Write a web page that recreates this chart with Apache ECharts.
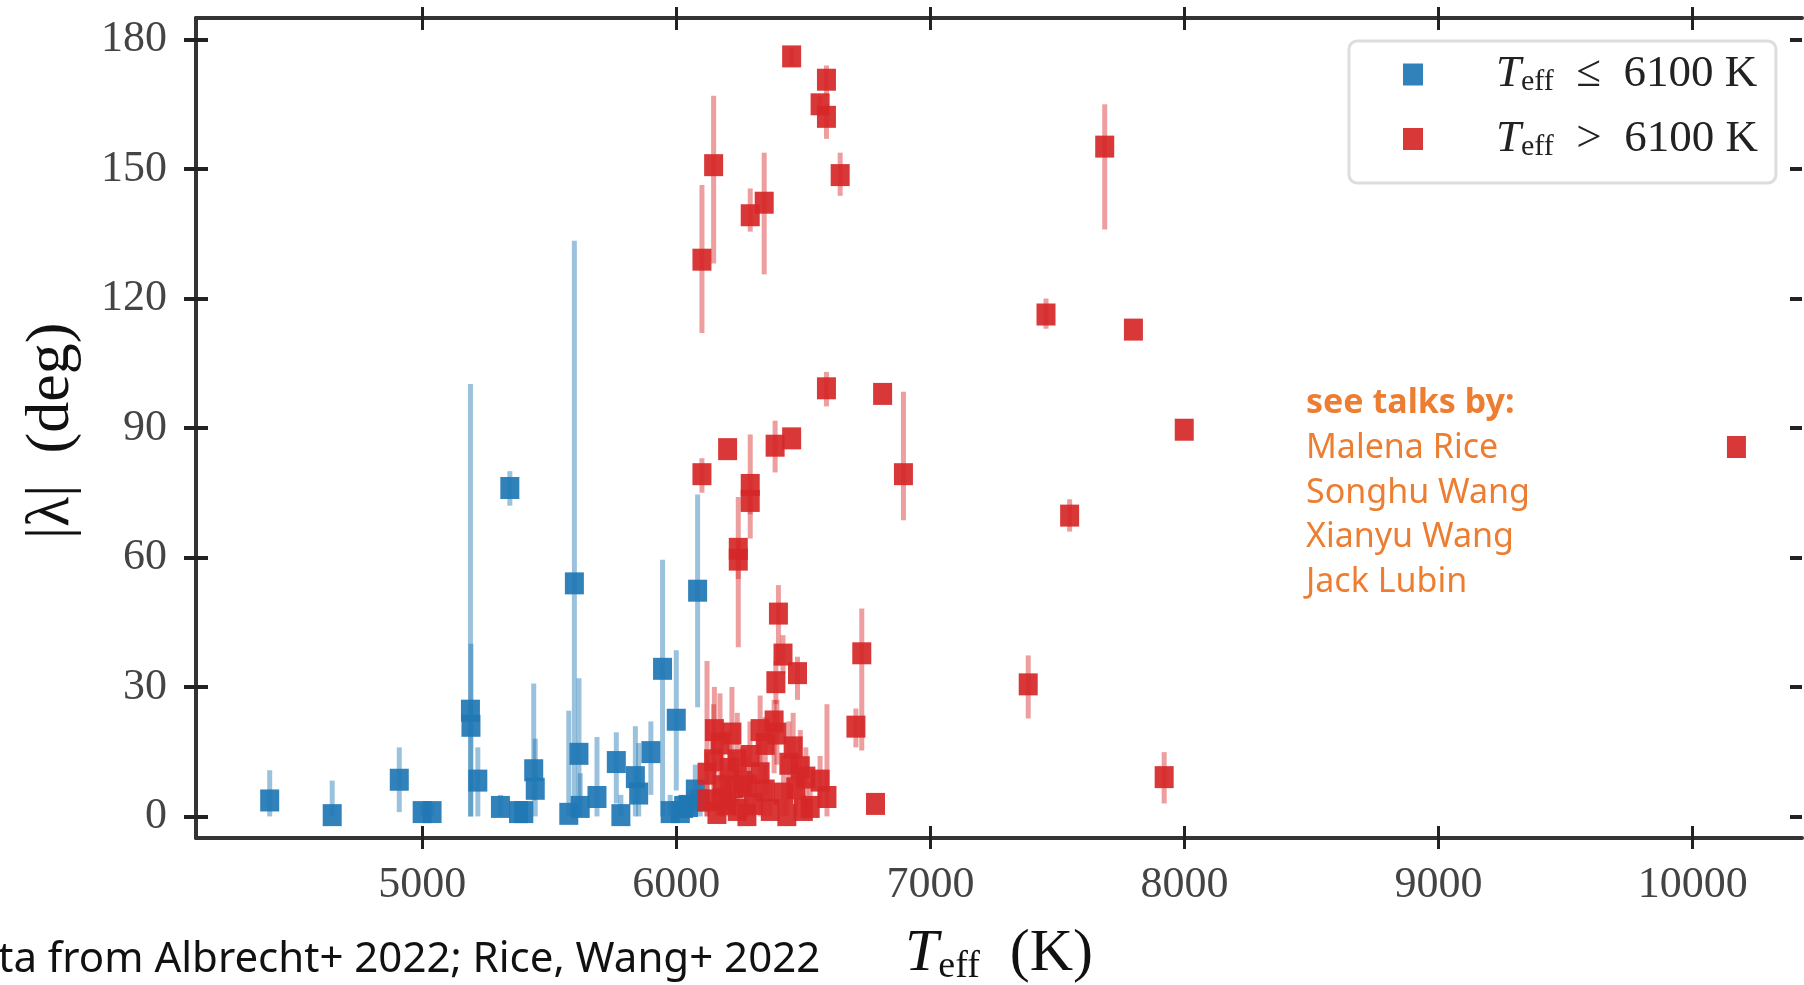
<!DOCTYPE html>
<html>
<head>
<meta charset="utf-8">
<title>|lambda| vs Teff</title>
<script src="https://cdn.jsdelivr.net/npm/echarts@6/dist/echarts.min.js"></script>
<style>
  html, body { margin: 0; padding: 0; background: #fff; }
  #chart { width: 1804px; height: 985px; }
</style>
</head>
<body>
<div id="chart"></div>
<script>
// stars with Teff <= 6100 K
var coolTeff = [4400, 4646, 4910, 5000, 5039, 5190, 5192, 5219, 5308, 5345, 5379, 5400, 5439, 5445, 5577, 5599, 5617, 5622, 5688, 5764, 5782, 5839, 5852, 5900, 5946, 5976, 6000, 6016, 6029, 6048, 6075, 6084, 6094]
var coolLam = [3.7, 0.3, 8.5, 1.0, 1.0, 24.5, 21.0, 8.3, 2.2, 76.1, 1.0, 1.0, 10.7, 6.4, 0.6, 54.0, 14.5, 2.2, 4.5, 12.6, 0.3, 9.1, 5.3, 14.9, 34.2, 1.0, 22.4, 1.0, 2.2, 2.4, 6.0, 52.3, 3.7]
var coolLo = [0, 0, 1, 0, 0, 0, 0, 0, 0, 72, 0, 0, 3.7, 0, 0, 0, 0, 0, 0, 3, 0, 0, 0, 5, 0, 0, 6, 0, 0, 0, 0, 25.3, 0]
var coolHi = [10.7, 8.3, 16, 3, 3, 100.2, 40, 16, 5, 80, 3, 3, 30.8, 18, 24.5, 133.4, 32, 10, 18.4, 19.5, 5, 20.9, 17, 22, 59.5, 5, 38.5, 5, 5, 6, 12, 74.6, 8]

// stars with Teff > 6100 K
var hotTeff = [6454, 6591, 6566, 6591, 6645, 6147, 6101, 6291, 6346, 7686, 7455, 7799, 6591, 6812, 7999, 10172,
  6894, 6202, 6389, 6454, 6101, 6291, 6291, 7548, 6244, 6244, 6402, 6420, 6477, 6392, 6730, 6707, 7385, 7920, 6784,
  6385, 6350, 6219, 6172, 6147, 6121, 6121, 6443, 6488, 6566, 6593, 6527, 6435, 6278, 6225, 6199, 6304, 6422, 6396,
  6260, 6330, 6180, 6240, 6160, 6350, 6470, 6240, 6370, 6500,
  6180, 6210, 6290, 6330, 6460, 6510, 6150, 6280]
var hotLam = [176.1, 170.7, 165.0, 162.1, 148.6, 150.9, 129.0, 139.3, 142.2, 155.2, 116.3, 112.8, 99.2, 97.9, 89.6, 85.6,
  79.3, 85.1, 85.9, 87.6, 79.3, 76.8, 73.1, 69.7, 62.0, 59.5, 47.0, 37.5, 33.2, 31.1, 37.8, 20.8, 30.6, 9.1, 2.9,
  22.0, 16.8, 19.2, 16.9, 13.0, 9.9, 3.7, 12.2, 11.4, 8.3, 4.5, 2.2, 0.3, 0.3, 6.8, 2.9, 2.9, 5.3, 19.2,
  8.0, 10.0, 7.0, 13.0, 0.8, 6.0, 6.5, 1.5, 1.5, 1.5,
  4.0, 11.0, 14.0, 20.0, 16.0, 9.0, 20.0, 7.0]
var hotLo = [174, 167, 163, 157, 143.8, 128.1, 112, 135.5, 125.6, 136, 113, 112.8, 95, 97.9, 89.6, 85.6,
  68.6, 85.1, 79.7, 87.6, 75, 64.4, 70, 66, 39.2, 55, 35, 33, 27, 26, 15.3, 16, 22.7, 3, 2.9,
  10, 5, 10, 8, 3, 0, 0, 5, 4, 2, 0, 0, 0, 0, 0, 0, 0, 0, 12,
  0, 0, 0, 3, 0, 0, 0, 0, 0, 0,
  0, 3, 6, 12, 8, 2, 10, 0]
var hotHi = [178, 174, 167, 165, 153.8, 167, 146.3, 145.5, 153.8, 165, 120, 112.8, 103, 97.9, 89.6, 85.6,
  98.4, 85.1, 91.7, 87.6, 83, 88.5, 76, 73.5, 74, 64, 53.6, 42, 37, 36, 48.2, 25, 37.3, 14.9, 2.9,
  27, 23, 30, 28.5, 26, 36, 15, 22, 20, 14, 26, 8, 4, 4, 15, 12, 10, 14, 27,
  16, 18, 20, 24, 5, 12, 12, 6, 8, 5,
  10, 20, 22, 28, 24, 16, 30, 14]

var xTicks = [5000, 6000, 7000, 8000, 9000, 10000]
var yTicks = [0, 30, 60, 90, 120, 150, 180]
var speakers = ['Malena Rice', 'Songhu Wang', 'Xianyu Wang', 'Jack Lubin']

var BLUE = '#1f77b4'
var RED = '#d62728'
var SERIF = 'Liberation Serif'
var SANS = 'Noto Sans'

function points (teff, lam) {
  return teff.map(function (t, i) { return [t, lam[i]] })
}

function errorBars (name, teff, lo, hi, color, z) {
  return {
    name: name,
    type: 'custom',
    silent: true,
    z: z,
    encode: { x: 0, y: [1, 2] },
    data: teff.map(function (t, i) { return [t, lo[i], hi[i]] }),
    renderItem: function (params, api) {
      var p1 = api.coord([api.value(0), api.value(1)])
      var p2 = api.coord([api.value(0), api.value(2)])
      return {
        type: 'line',
        shape: { x1: p1[0], y1: p1[1], x2: p2[0], y2: p2[1] },
        style: { stroke: color, lineWidth: 5, opacity: 0.45 }
      }
    }
  }
}

function plainNumber (v) {
  return String(v)
}

// one axis for the outward half of the ticks, one for the inward half
function xAxisPart (position, inside, withLabels) {
  return {
    type: 'value',
    position: position,
    min: 4110,
    max: 10430,
    axisLine: { show: !inside, onZero: false, lineStyle: { color: '#333', width: 4 } },
    axisTick: { show: true, inside: inside, length: inside ? 12 : 11, customValues: xTicks, lineStyle: { color: '#222', width: 3 } },
    axisLabel: { show: withLabels, customValues: xTicks, formatter: plainNumber, margin: 25, fontFamily: SERIF, fontSize: 44, color: '#444' },
    splitLine: { show: false }
  }
}

function yAxisPart (position, inside, withLabels, lineColor) {
  return {
    type: 'value',
    position: position,
    min: -5,
    max: 185,
    axisLine: { show: !inside, onZero: false, lineStyle: { color: lineColor, width: 4 } },
    axisTick: { show: true, inside: inside, length: 12, customValues: yTicks, lineStyle: { color: '#222', width: 4 } },
    axisLabel: { show: withLabels, customValues: yTicks, formatter: plainNumber, margin: 29, fontFamily: SERIF, fontSize: 44, color: '#444' },
    splitLine: { show: false }
  }
}

var xMain = xAxisPart('bottom', false, true)
xMain.name = '{t|T}{s|eff}{r|  (K)}'
xMain.nameLocation = 'middle'
xMain.nameGap = 84
xMain.nameTextStyle = {
  rich: {
    t: { fontFamily: SERIF, fontStyle: 'italic', fontSize: 60, lineHeight: 64, color: '#111' },
    s: { fontFamily: SERIF, fontSize: 38, lineHeight: 64, verticalAlign: 'bottom', color: '#111' },
    r: { fontFamily: SERIF, fontSize: 60, lineHeight: 64, color: '#111' }
  }
}

var yMain = yAxisPart('left', false, true, '#333')
yMain.name = '|λ|  (deg)'
yMain.nameLocation = 'middle'
yMain.nameRotate = 90
yMain.nameGap = 113
yMain.nameTextStyle = { fontFamily: SERIF, fontSize: 62, color: '#111', padding: [0, 6, 0, 0] }

var legendRich = {
  t: { fontFamily: SERIF, fontStyle: 'italic', fontSize: 45, lineHeight: 46, color: '#222' },
  s: { fontFamily: SERIF, fontSize: 30, lineHeight: 46, verticalAlign: 'bottom', color: '#222' },
  r: { fontFamily: SERIF, fontSize: 45, lineHeight: 46, color: '#222' }
}

var chart = echarts.init(document.getElementById('chart'), null, { renderer: 'canvas' })

chart.setOption({
  animation: false,
  backgroundColor: '#fff',
  grid: { left: 196, right: 2, top: 18, bottom: 147, containLabel: false, outerBoundsMode: 'none' },
  xAxis: [
    xMain,
    xAxisPart('bottom', true, false),
    xAxisPart('top', false, false),
    xAxisPart('top', true, false)
  ],
  yAxis: [
    yMain,
    yAxisPart('left', true, false, '#333'),
    yAxisPart('right', true, false, '#777')
  ],
  legend: {
    data: ['Teff <= 6100 K', 'Teff > 6100 K'],
    orient: 'vertical',
    left: 1349,
    top: 41,
    padding: [11, 18, 21, 54],
    itemGap: 19,
    itemWidth: 20,
    itemHeight: 22,
    icon: 'rect',
    backgroundColor: '#fff',
    borderColor: '#ddd',
    borderWidth: 3,
    borderRadius: 8,
    formatter: function (name) {
      return name.indexOf('<=') >= 0 ? '{t|T}{s|eff}{r|  ≤  6100 K}' : '{t|T}{s|eff}{r|  >  6100 K}'
    },
    textStyle: { width: 285, padding: [0, 0, 0, 68], rich: legendRich }
  },
  graphic: [
    {
      type: 'text',
      left: 1306,
      top: 381,
      style: {
        text: '{b|see talks by:}\n' + speakers.join('\n'),
        fontFamily: SANS,
        fontSize: 34,
        lineHeight: 44.8,
        fill: '#ed7d31',
        rich: { b: { fontFamily: SANS, fontSize: 34, fontWeight: 'bold', lineHeight: 44.8, fill: '#ed7d31' } }
      }
    },
    {
      type: 'text',
      left: -56,
      top: 939,
      style: {
        text: 'Data from Albrecht+ 2022; Rice, Wang+ 2022',
        fontFamily: SANS,
        fontSize: 42,
        fill: '#111'
      }
    }
  ],
  series: [
    errorBars('cool err', coolTeff, coolLo, coolHi, BLUE, 1),
    {
      name: 'Teff <= 6100 K',
      type: 'scatter',
      z: 2,
      symbol: 'rect',
      symbolSize: [19, 22],
      itemStyle: { color: BLUE, opacity: 0.92 },
      data: points(coolTeff, coolLam)
    },
    errorBars('hot err', hotTeff, hotLo, hotHi, RED, 3),
    {
      name: 'Teff > 6100 K',
      type: 'scatter',
      z: 4,
      symbol: 'rect',
      symbolSize: [19, 22],
      itemStyle: { color: RED, opacity: 0.92 },
      data: points(hotTeff, hotLam)
    }
  ]
})

window.onresize = function () {
  chart.resize()
}
</script>
</body>
</html>
